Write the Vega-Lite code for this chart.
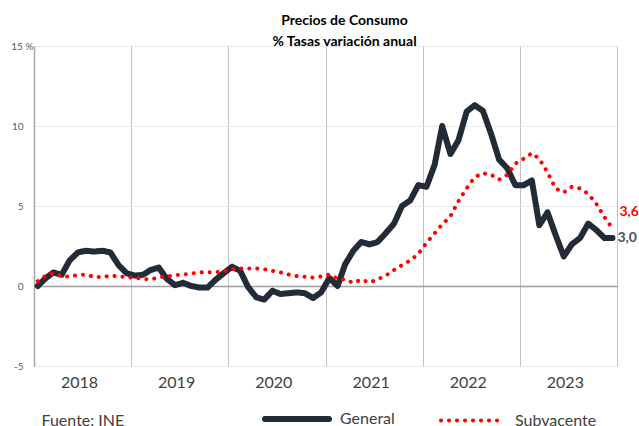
{
  "$schema": "https://vega.github.io/schema/vega-lite/v6.json",
  "width": 583,
  "height": 320,
  "autosize": "none",
  "padding": {"left": 34, "top": 46, "right": 22, "bottom": 60},
  "background": "white",
  "title": {
    "text": ["Precios de Consumo", "% Tasas variación anual"],
    "font": "Lato",
    "fontSize": 14,
    "fontWeight": "bold",
    "color": "#000000",
    "anchor": "middle",
    "dx": 19,
    "lineHeight": 21,
    "offset": -8
  },
  "data": {
    "values": [
      {"m": "2018-01-15", "General": 0.0, "Subyacente": 0.3},
      {"m": "2018-02-15", "General": 0.5, "Subyacente": 0.65},
      {"m": "2018-03-15", "General": 0.85, "Subyacente": 0.8},
      {"m": "2018-04-15", "General": 0.7, "Subyacente": 0.62},
      {"m": "2018-05-15", "General": 1.6, "Subyacente": 0.58},
      {"m": "2018-06-15", "General": 2.1, "Subyacente": 0.7},
      {"m": "2018-07-15", "General": 2.2, "Subyacente": 0.7},
      {"m": "2018-08-15", "General": 2.15, "Subyacente": 0.58},
      {"m": "2018-09-15", "General": 2.2, "Subyacente": 0.55},
      {"m": "2018-10-15", "General": 2.1, "Subyacente": 0.65},
      {"m": "2018-11-15", "General": 1.3, "Subyacente": 0.6},
      {"m": "2018-12-15", "General": 0.8, "Subyacente": 0.55},
      {"m": "2019-01-15", "General": 0.65, "Subyacente": 0.5},
      {"m": "2019-02-15", "General": 0.7, "Subyacente": 0.45},
      {"m": "2019-03-15", "General": 1.0, "Subyacente": 0.4},
      {"m": "2019-04-15", "General": 1.15, "Subyacente": 0.55},
      {"m": "2019-05-15", "General": 0.45, "Subyacente": 0.6},
      {"m": "2019-06-15", "General": 0.05, "Subyacente": 0.68},
      {"m": "2019-07-15", "General": 0.2, "Subyacente": 0.72},
      {"m": "2019-08-15", "General": 0.0, "Subyacente": 0.78},
      {"m": "2019-09-15", "General": -0.1, "Subyacente": 0.85},
      {"m": "2019-10-15", "General": -0.1, "Subyacente": 0.86},
      {"m": "2019-11-15", "General": 0.4, "Subyacente": 0.87},
      {"m": "2019-12-15", "General": 0.8, "Subyacente": 0.9},
      {"m": "2020-01-15", "General": 1.2, "Subyacente": 1.05},
      {"m": "2020-02-15", "General": 0.95, "Subyacente": 1.1},
      {"m": "2020-03-15", "General": -0.05, "Subyacente": 1.1},
      {"m": "2020-04-15", "General": -0.7, "Subyacente": 1.1},
      {"m": "2020-05-15", "General": -0.85, "Subyacente": 1.05},
      {"m": "2020-06-15", "General": -0.3, "Subyacente": 0.95},
      {"m": "2020-07-15", "General": -0.5, "Subyacente": 0.85},
      {"m": "2020-08-15", "General": -0.45, "Subyacente": 0.72},
      {"m": "2020-09-15", "General": -0.4, "Subyacente": 0.62},
      {"m": "2020-10-15", "General": -0.45, "Subyacente": 0.57},
      {"m": "2020-11-15", "General": -0.75, "Subyacente": 0.52},
      {"m": "2020-12-15", "General": -0.4, "Subyacente": 0.6},
      {"m": "2021-01-15", "General": 0.5, "Subyacente": 0.72},
      {"m": "2021-02-15", "General": 0.0, "Subyacente": 0.45},
      {"m": "2021-03-15", "General": 1.35, "Subyacente": 0.4},
      {"m": "2021-04-15", "General": 2.2, "Subyacente": 0.2},
      {"m": "2021-05-15", "General": 2.75, "Subyacente": 0.4},
      {"m": "2021-06-15", "General": 2.6, "Subyacente": 0.22},
      {"m": "2021-07-15", "General": 2.75, "Subyacente": 0.42},
      {"m": "2021-08-15", "General": 3.3, "Subyacente": 0.65},
      {"m": "2021-09-15", "General": 3.9, "Subyacente": 1.0},
      {"m": "2021-10-15", "General": 5.0, "Subyacente": 1.3},
      {"m": "2021-11-15", "General": 5.35, "Subyacente": 1.6},
      {"m": "2021-12-15", "General": 6.3, "Subyacente": 2.0},
      {"m": "2022-01-15", "General": 6.2, "Subyacente": 2.7},
      {"m": "2022-02-15", "General": 7.6, "Subyacente": 3.3},
      {"m": "2022-03-15", "General": 10.0, "Subyacente": 3.85},
      {"m": "2022-04-15", "General": 8.25, "Subyacente": 4.35},
      {"m": "2022-05-15", "General": 9.1, "Subyacente": 5.3},
      {"m": "2022-06-15", "General": 10.9, "Subyacente": 6.1},
      {"m": "2022-07-15", "General": 11.3, "Subyacente": 6.8},
      {"m": "2022-08-15", "General": 10.95, "Subyacente": 7.05},
      {"m": "2022-09-15", "General": 9.5, "Subyacente": 6.95},
      {"m": "2022-10-15", "General": 7.9, "Subyacente": 6.65},
      {"m": "2022-11-15", "General": 7.35, "Subyacente": 6.95},
      {"m": "2022-12-15", "General": 6.3, "Subyacente": 7.65},
      {"m": "2023-01-15", "General": 6.3, "Subyacente": 7.95},
      {"m": "2023-02-15", "General": 6.6, "Subyacente": 8.3},
      {"m": "2023-03-15", "General": 3.8, "Subyacente": 7.95},
      {"m": "2023-04-15", "General": 4.6, "Subyacente": 7.1},
      {"m": "2023-05-15", "General": 3.2, "Subyacente": 6.1},
      {"m": "2023-06-15", "General": 1.85, "Subyacente": 5.85},
      {"m": "2023-07-15", "General": 2.6, "Subyacente": 6.2},
      {"m": "2023-08-15", "General": 3.0, "Subyacente": 6.1},
      {"m": "2023-09-15", "General": 3.9, "Subyacente": 5.75},
      {"m": "2023-10-15", "General": 3.5, "Subyacente": 5.15},
      {"m": "2023-11-15", "General": 3.0, "Subyacente": 4.3},
      {"m": "2023-12-15", "General": 3.0, "Subyacente": 3.6}
    ]
  },
  "transform": [
    {"fold": ["General", "Subyacente"], "as": ["serie", "valor"]}
  ],
  "encoding": {
    "x": {
      "field": "m",
      "type": "temporal",
      "title": "Fuente: INE",
      "scale": {
        "type": "utc",
        "domain": [
          {"year": 2018, "month": 1, "date": 1, "utc": true},
          {"year": 2024, "month": 1, "date": 1, "utc": true}
        ]
      },
      "axis": {
        "values": [
          {"year": 2018, "month": 1, "date": 1, "utc": true},
          {"year": 2019, "month": 1, "date": 1, "utc": true},
          {"year": 2020, "month": 1, "date": 1, "utc": true},
          {"year": 2021, "month": 1, "date": 1, "utc": true},
          {"year": 2022, "month": 1, "date": 1, "utc": true},
          {"year": 2023, "month": 1, "date": 1, "utc": true},
          {"year": 2024, "month": 1, "date": 1, "utc": true}
        ],
        "format": "%Y",
        "labelExpr": "utcyear(datum.value) >= 2024 ? '' : datum.label",
        "labelOffset": 45,
        "labelFont": "Lato",
        "labelFontSize": 16,
        "labelColor": "#404040",
        "labelPadding": 8,
        "labelOverlap": false,
        "labelFlush": false,
        "labelBound": false,
        "ticks": false,
        "tickSize": 0,
        "domain": false,
        "grid": true,
        "gridColor": "#c3c3c3",
        "gridWidth": 1,
        "titleFont": "Lato",
        "titleFontSize": 16,
        "titleFontWeight": "normal",
        "titleColor": "#404040",
        "titleAnchor": "start",
        "titleAlign": "left",
        "titleBaseline": "alphabetic",
        "titleX": 7,
        "titleY": 59
      }
    },
    "y": {
      "field": "valor",
      "type": "quantitative",
      "title": null,
      "scale": {"domain": [-5, 15], "nice": false, "zero": false},
      "axis": {
        "values": [-5, 0, 5, 10, 15],
        "labelExpr": "datum.value == 15 ? '15 %' : datum.label",
        "labelFont": "Lato",
        "labelFontSize": 10,
        "labelColor": "#595959",
        "labelPadding": {"condition": {"test": "datum.value == 15", "value": 1}, "value": 11},
        "ticks": false,
        "tickSize": 0,
        "domain": true,
        "domainColor": "#a6a6a6",
        "domainWidth": 1.5,
        "grid": true,
        "gridColor": {"condition": {"test": "datum.value == 0", "value": "#a0a0a0"}, "value": "#d9d9d9"},
        "gridDash": {"condition": {"test": "datum.value == 0", "value": []}, "value": [2, 2]},
        "gridWidth": {"condition": {"test": "datum.value == 0", "value": 1.5}, "value": 1}
      }
    }
  },
  "layer": [
    {
      "mark": {"type": "line", "strokeCap": "round", "strokeJoin": "round"},
      "encoding": {
        "stroke": {
          "field": "serie",
          "type": "nominal",
          "scale": {"domain": ["General", "Subyacente"], "range": ["#222b38", "#ff0000"]},
          "legend": {
            "title": null,
            "orient": "none",
            "direction": "horizontal",
            "legendX": 228,
            "legendY": 338,
            "symbolType": "stroke",
            "symbolSize": 4096,
            "labelFont": "Lato",
            "labelFontSize": 16,
            "labelColor": "#404040",
            "labelOffset": 8,
            "labelBaseline": "middle",
            "columnPadding": 38,
            "encode": {"symbols": {"update": {"strokeCap": {"value": "round"}}}}
          }
        },
        "strokeDash": {
          "field": "serie",
          "type": "nominal",
          "scale": {"domain": ["General", "Subyacente"], "range": [[1, 0], [0.1, 7.9]]},
          "legend": null
        },
        "strokeWidth": {
          "field": "serie",
          "type": "nominal",
          "scale": {"domain": ["General", "Subyacente"], "range": [6, 4]},
          "legend": null
        }
      }
    },
    {
      "transform": [
        {"filter": "datum.serie == 'General' && utcyear(datum.m) == 2023 && utcmonth(datum.m) == 11"}
      ],
      "mark": {"type": "text", "align": "left", "baseline": "middle", "dx": 5, "font": "Lato", "fontSize": 14, "fontWeight": "bold", "color": "#44546a"},
      "encoding": {"text": {"field": "valor", "type": "quantitative", "format": ".1f"}}
    },
    {
      "transform": [
        {"filter": "datum.serie == 'Subyacente' && utcyear(datum.m) == 2023 && utcmonth(datum.m) == 11"}
      ],
      "mark": {"type": "text", "align": "left", "baseline": "middle", "dx": 7, "dy": -16, "font": "Lato", "fontSize": 14, "fontWeight": "bold", "color": "#ff0000"},
      "encoding": {"text": {"field": "valor", "type": "quantitative", "format": ".1f"}}
    }
  ],
  "config": {
    "view": {"stroke": null},
    "locale": {"number": {"decimal": ",", "thousands": ".", "grouping": [3], "currency": ["", " €"], "minus": "-"}}
  }
}
